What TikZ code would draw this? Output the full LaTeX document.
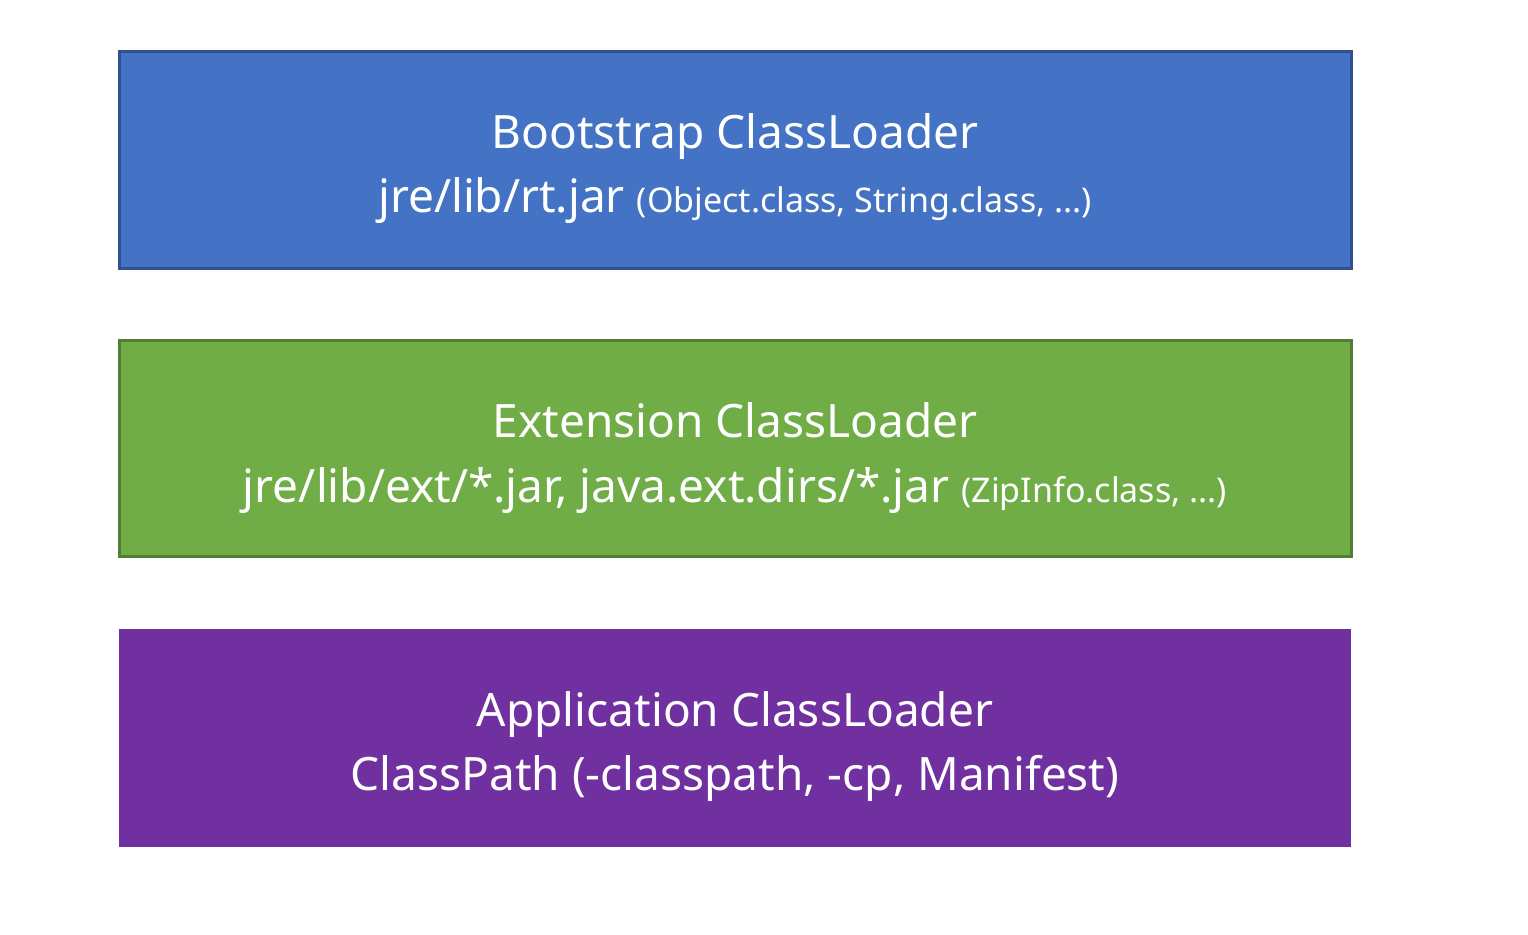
\documentclass[tikz,border=0pt]{standalone}
\usepackage{fontspec}
\setmainfont{Noto Sans}
\definecolor{bfill}{HTML}{4472C4}\definecolor{bdraw}{HTML}{2F528F}
\definecolor{gfill}{HTML}{70AD47}\definecolor{gdraw}{HTML}{507E32}
\definecolor{pfill}{HTML}{7030A0}
\begin{document}
\begin{tikzpicture}[x=0.5pt,y=-0.5pt,
  box/.style={line width=1.5pt},
  big/.style={text=white,font=\fontsize{23}{26}\selectfont,anchor=base,inner sep=0pt}]
\useasboundingbox (0,0) rectangle (1528,934);
\draw[box,fill=bfill,draw=bdraw] (119,51) rectangle (1351,268);
\draw[box,fill=gfill,draw=gdraw] (119,340) rectangle (1351,556);
\fill[pfill] (119,629) rectangle (1351,847);
\node[big] (b1) at (735,148) {Bootstrap ClassLoader};
\node[big] (b2) at (735,212) {jre/lib/rt.jar {\fontsize{17}{20}\selectfont (Object.class, String.class, ...)}};
\node[big] (g1) at (735,437) {Extension ClassLoader};
\node[big] (g2) at (735,502) {jre/lib/ext/*.jar, java.ext.dirs/*.jar {\fontsize{17}{20}\selectfont (ZipInfo.class, ...)}};
\node[big] (p1) at (735,726) {Application ClassLoader};
\node[big] (p2) at (735,790) {ClassPath (-classpath, -cp, Manifest)};
\end{tikzpicture}
\end{document}
